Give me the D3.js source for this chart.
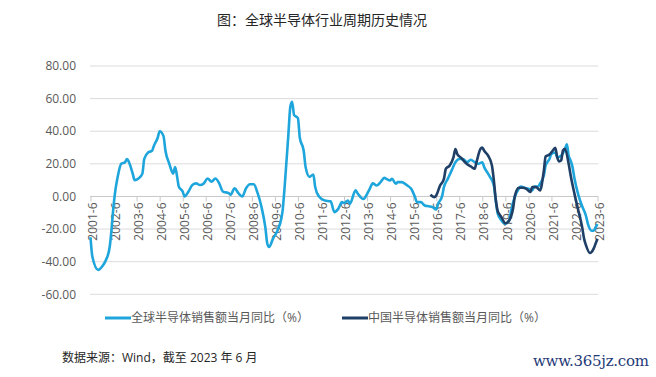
<!DOCTYPE html>
<html>
<head>
<meta charset="utf-8">
<script src="https://cdn.jsdelivr.net/npm/d3@7"></script>
<style>
  body { margin: 0; background: #fff; }
  text { font-family: "Open Sans", "Noto Sans CJK SC", sans-serif; }
</style>
</head>
<body>
<div id="chart"></div>
<script>
const width = 656,
      height = 377;
const plotLeft = 90.5,
      plotRight = 597.5,
      plotTop = 66,
      plotBottom = 294.3;

const title = "图：全球半导体行业周期历史情况";
const seriesNames = ["全球半导体销售额当月同比（%）", "中国半导体销售额当月同比（%）"];
const colors = ["#1ea6dc", "#1f3f66"];
const yTicks = [80, 60, 40, 20, 0, -20, -40, -60];
const xTickLabels = ["2001-6", "2002-6", "2003-6", "2004-6", "2005-6", "2006-6", "2007-6", "2008-6",
  "2009-6", "2010-6", "2011-6", "2012-6", "2013-6", "2014-6", "2015-6", "2016-6", "2017-6",
  "2018-6", "2019-6", "2020-6", "2021-6", "2022-6", "2023-6"];

// global semiconductor sales yoy (%)
const globalYoY = [
  ["2001-06", -25], ["2001-07", -37], ["2001-10", -45], ["2001-12", -43], ["2002-02", -39],
  ["2002-04", -31], ["2002-05", -20], ["2002-06", -6], ["2002-07", 4], ["2002-08", 11],
  ["2002-10", 20], ["2002-12", 21], ["2003-01", 23], ["2003-02", 21], ["2003-04", 14],
  ["2003-05", 10], ["2003-07", 11], ["2003-09", 14], ["2003-10", 23], ["2003-12", 27],
  ["2004-02", 28], ["2004-03", 31], ["2004-05", 36], ["2004-06", 40], ["2004-08", 37],
  ["2004-09", 28], ["2004-11", 20], ["2005-01", 14], ["2005-02", 18], ["2005-03", 13],
  ["2005-04", 6], ["2005-06", 3], ["2005-07", 0], ["2005-09", 3], ["2005-11", 7],
  ["2006-01", 8], ["2006-03", 7], ["2006-05", 8], ["2006-07", 11], ["2006-09", 9],
  ["2006-11", 11], ["2007-01", 8], ["2007-03", 3], ["2007-06", 2], ["2007-07", 1],
  ["2007-09", 5], ["2007-11", 2], ["2008-01", 0], ["2008-03", 5], ["2008-05", 7.5],
  ["2008-07", 7.5], ["2008-09", 2], ["2008-11", -6.5], ["2009-01", -19], ["2009-02", -29],
  ["2009-03", -31], ["2009-05", -26], ["2009-08", -19], ["2009-10", -9], ["2009-11", 5],
  ["2010-01", 38], ["2010-02", 55], ["2010-03", 58], ["2010-04", 50], ["2010-06", 48],
  ["2010-07", 36], ["2010-09", 28], ["2010-10", 18], ["2010-12", 12], ["2011-02", 13.5],
  ["2011-03", 6], ["2011-05", 0], ["2011-08", -2.5], ["2011-11", -3], ["2012-01", -9.6],
  ["2012-03", -7.6], ["2012-05", -3.5], ["2012-06", -4], ["2012-08", -2.5], ["2012-09", -4.5],
  ["2012-12", 3.7], ["2013-01", 2], ["2013-04", -1.6], ["2013-07", 3.7], ["2013-09", 8],
  ["2013-11", 6.7], ["2014-01", 8.8], ["2014-03", 11.4], ["2014-04", 10.8], ["2014-06", 9.8],
  ["2014-07", 10.8], ["2014-09", 7.8], ["2014-10", 8.8], ["2014-12", 8.8], ["2015-03", 6.7],
  ["2015-05", 4.7], ["2015-07", -0.4], ["2015-08", -3.5], ["2015-10", -3.5], ["2015-12", -5.5],
  ["2016-02", -6], ["2016-04", -6.5], ["2016-06", -8], ["2016-07", -4.5], ["2016-09", 0],
  ["2016-10", 5.7], ["2016-12", 10.8], ["2017-02", 16], ["2017-04", 21], ["2017-06", 23],
  ["2017-08", 23], ["2017-10", 21], ["2017-12", 22.5], ["2018-02", 21], ["2018-04", 20],
  ["2018-06", 21], ["2018-07", 18], ["2018-09", 14], ["2018-10", 12], ["2018-12", 6.7],
  ["2019-01", -2.5], ["2019-02", -10.6], ["2019-04", -14.7], ["2019-06", -16.8], ["2019-08", -14.7],
  ["2019-09", -8.6], ["2019-11", 0], ["2020-01", 4.7], ["2020-02", 6], ["2020-04", 5.3],
  ["2020-06", 4.7], ["2020-08", 3.7], ["2020-09", 6], ["2020-11", 6], ["2020-12", 7.8],
  ["2021-02", 13], ["2021-03", 19], ["2021-05", 23], ["2021-06", 26], ["2021-08", 27],
  ["2021-09", 24], ["2021-11", 25], ["2022-01", 29], ["2022-02", 32], ["2022-03", 25],
  ["2022-04", 22], ["2022-05", 18], ["2022-06", 11], ["2022-08", 1], ["2022-10", -6],
  ["2022-12", -12], ["2023-01", -17], ["2023-03", -21], ["2023-04", -21], ["2023-05", -19],
  ["2023-06", -17]
];

// china semiconductor sales yoy (%)
const chinaYoY = [
  ["2016-03", 1], ["2016-05", -0.4], ["2016-06", 0.6], ["2016-08", 6.7], ["2016-10", 10.8],
  ["2016-11", 17], ["2017-01", 19], ["2017-03", 24], ["2017-04", 29], ["2017-05", 26],
  ["2017-07", 23.7], ["2017-09", 21], ["2017-11", 19], ["2017-12", 18.4], ["2018-02", 17],
  ["2018-03", 21], ["2018-05", 29], ["2018-06", 30], ["2018-07", 28], ["2018-09", 25],
  ["2018-11", 19], ["2018-12", 10], ["2019-01", -2], ["2019-02", -9], ["2019-03", -11],
  ["2019-04", -12.7], ["2019-06", -16.4], ["2019-08", -14.7], ["2019-10", -7.6], ["2019-11", 0.6],
  ["2020-01", 5.3], ["2020-03", 5.3], ["2020-05", 4.7], ["2020-07", 2.7], ["2020-08", 5.7],
  ["2020-10", 5.7], ["2020-12", 3.7], ["2021-02", 16], ["2021-03", 24.5], ["2021-05", 25.7],
  ["2021-07", 28.6], ["2021-08", 29.8], ["2021-09", 24], ["2021-10", 21.5], ["2021-11", 22],
  ["2021-12", 28.2], ["2022-01", 29.2], ["2022-03", 20], ["2022-04", 13], ["2022-06", 1.6],
  ["2022-08", -8.6], ["2022-10", -18.8], ["2022-11", -26], ["2022-12", -30], ["2023-02", -34.7],
  ["2023-04", -32], ["2023-05", -29], ["2023-06", -26]
];

const parseMonth = d3.timeParse("%Y-%m");

const svg = d3.select("#chart")
  .append("svg")
  .attr("width", width)
  .attr("height", height)
  .style("background", "#fff");

const xScale = d3.scaleTime()
  .domain([parseMonth("2001-06"), parseMonth("2023-06")])
  .range([plotLeft, plotRight]);

const yScale = d3.scaleLinear()
  .domain([-60, 80])
  .range([plotBottom, plotTop]);

svg.append("text")
  .attr("x", 322)
  .attr("y", 25)
  .attr("text-anchor", "middle")
  .attr("font-size", "14px")
  .attr("fill", "#262626")
  .text(title);

// gridlines + y labels
svg.append("g")
  .selectAll("line")
  .data(yTicks)
  .join("line")
  .attr("x1", plotLeft - 0.5)
  .attr("x2", plotRight + 0.8)
  .attr("y1", d => yScale(d))
  .attr("y2", d => yScale(d))
  .attr("stroke", d => d === 0 ? "#c8c8c8" : "#dcdcdc")
  .attr("stroke-width", 1);

svg.append("g")
  .selectAll("text")
  .data(yTicks)
  .join("text")
  .attr("x", 76)
  .attr("y", d => yScale(d))
  .attr("dy", "0.35em")
  .attr("text-anchor", "end")
  .attr("font-size", "12px")
  .attr("fill", "#595959")
  .text(d => d.toFixed(2));

// x axis along zero
const xAxis = d3.axisBottom(xScale)
  .tickValues(xTickLabels.map(d => parseMonth(d)))
  .tickFormat(d3.timeFormat("%Y-%-m"))
  .tickSize(5)
  .tickSizeOuter(0);

const gx = svg.append("g")
  .attr("transform", `translate(0,${yScale(0)})`)
  .call(xAxis);
gx.select(".domain").remove();
gx.selectAll(".tick line").attr("stroke", "#c8c8c8");
gx.selectAll(".tick text")
  .attr("font-size", "12px")
  .attr("fill", "#595959")
  .attr("text-anchor", "end")
  .attr("transform", "rotate(-90)")
  .attr("x", -6)
  .attr("y", 1.5)
  .attr("dy", "0.35em");

const line = d3.line()
  .x(d => xScale(parseMonth(d[0])))
  .y(d => yScale(d[1]))
  .curve(d3.curveMonotoneX);

svg.append("path")
  .datum(globalYoY)
  .attr("fill", "none")
  .attr("stroke", colors[0])
  .attr("stroke-width", 2.6)
  .attr("stroke-linejoin", "round")
  .attr("d", line);

svg.append("path")
  .datum(chinaYoY)
  .attr("fill", "none")
  .attr("stroke", colors[1])
  .attr("stroke-width", 2.6)
  .attr("stroke-linejoin", "round")
  .attr("d", line);

// legend
const legendX = [105, 342];
seriesNames.forEach((name, i) => {
  svg.append("line")
    .attr("x1", legendX[i])
    .attr("x2", legendX[i] + 26)
    .attr("y1", 318)
    .attr("y2", 318)
    .attr("stroke", colors[i])
    .attr("stroke-width", 3);
  svg.append("text")
    .attr("x", legendX[i] + 26)
    .attr("y", 318)
    .attr("dy", "0.35em")
    .attr("font-size", "12px")
    .attr("fill", "#595959")
    .text(name);
});

svg.append("text")
  .attr("x", 62)
  .attr("y", 358)
  .attr("dy", "0.35em")
  .attr("font-size", "12px")
  .attr("fill", "#262626")
  .text("数据来源：Wind，截至 2023 年 6 月");

svg.append("text")
  .attr("x", 533)
  .attr("y", 361)
  .attr("dy", "0.35em")
  .attr("font-size", "15px")
  .attr("fill", "#1f3a78")
  .attr("textLength", 116)
  .style("font-family", "'DejaVu Serif', serif")
  .text("www.365jz.com");
</script>
</body>
</html>
